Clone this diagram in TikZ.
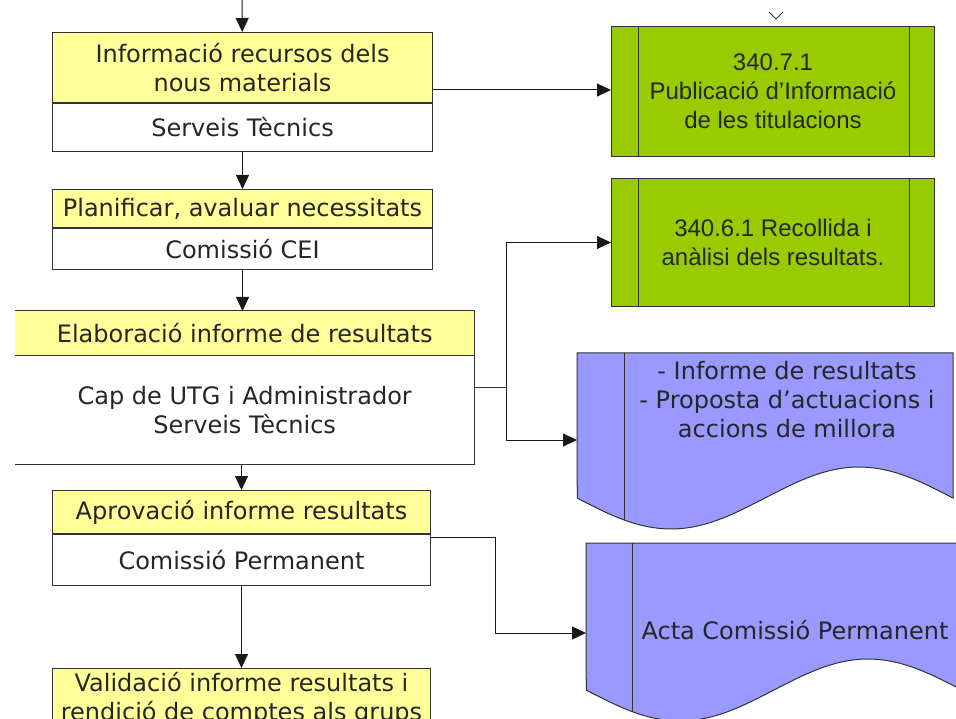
\documentclass[tikz,border=0pt]{standalone}
\usepackage{fontspec}
\newfontfamily\verdfont{DejaVu Sans}
\newfontfamily\arialfont{Liberation Sans}
\usetikzlibrary{arrows.meta, positioning}
\definecolor{boxyellow}{RGB}{255,255,153}
\definecolor{procgreen}{RGB}{153,204,0}
\definecolor{docblue}{RGB}{153,153,255}
\definecolor{linegray}{RGB}{51,51,51}

\begin{document}
\begin{tikzpicture}[x=1pt, y=-1pt, every node/.style={font=\verdfont\fontsize{24}{29}\selectfont, text=black!85, inner sep=0pt, align=center},
    taskTitle/.style={draw=linegray, line width=1pt, fill=boxyellow},
    taskRole/.style={draw=linegray, line width=1pt, fill=white},
    subProc/.style={draw=linegray, line width=1pt, fill=procgreen, minimum width=323pt, font=\arialfont\fontsize{24}{29}\selectfont},
    flow/.style={draw=black!90, line width=1pt, arrows=-{Triangle[length=14pt, width=13pt]}},
    edge/.style={draw=linegray, line width=1pt}]
    \useasboundingbox (0,0) rectangle (956,719);
    \clip (0,0) rectangle (956,719);

    % left column of tasks
    \node (infoTitle) [taskTitle, minimum width=380pt, minimum height=70pt, anchor=north west] at (52,32) {Informació recursos dels\\nous materials};
    \node (infoRole) [taskRole, minimum width=380pt, minimum height=48pt, below=0pt of infoTitle] {Serveis Tècnics};
    \node (planTitle) [taskTitle, minimum width=380pt, minimum height=38pt, anchor=north west] at (52,189) {Planificar, avaluar necessitats};
    \node (planRole) [taskRole, minimum width=380pt, minimum height=41pt, below=0pt of planTitle] {Comissió CEI};
    \node (elabTitle) [fill=boxyellow, minimum width=459pt, minimum height=44pt, anchor=north west] at (15,311) {Elaboració informe de resultats};
    \node (elabRole) [fill=white, minimum width=459pt, minimum height=109pt, below=0pt of elabTitle] {Cap de UTG i Administrador\\Serveis Tècnics};
    \draw [edge] (elabTitle.north west) -- (elabTitle.north east) -- (elabRole.south east) -- (elabRole.south west);
    \draw [edge] (elabTitle.south west) -- (elabTitle.south east);
    \node (aprovTitle) [taskTitle, minimum width=378pt, minimum height=43pt, anchor=north west] at (52,490) {Aprovació informe resultats};
    \node (aprovRole) [taskRole, minimum width=378pt, minimum height=51pt, below=0pt of aprovTitle] {Comissió Permanent};
    \node (validTitle) [taskTitle, minimum width=378pt, minimum height=60pt, anchor=north west] at (52,668) {Validació informe resultats i\\rendició de comptes als grups};

    % sub-processes
    \node (pubInfo) [subProc, minimum height=130pt, anchor=north west] at (611,26) {340.7.1\\Publicació d’Informació\\de les titulacions};
    \draw [edge] ([xshift=27pt]pubInfo.north west) -- ([xshift=27pt]pubInfo.south west);
    \draw [edge] ([xshift=-26pt]pubInfo.north east) -- ([xshift=-26pt]pubInfo.south east);
    \node (recollida) [subProc, minimum height=128pt, anchor=north west] at (611,178) {340.6.1 Recollida i\\anàlisi dels resultats.};
    \draw [edge] ([xshift=27pt]recollida.north west) -- ([xshift=27pt]recollida.south west);
    \draw [edge] ([xshift=-26pt]recollida.north east) -- ([xshift=-26pt]recollida.south east);
    \draw [edge, line width=0.8pt] (769,12) -- (776,19) -- (783,12);

    % documents
    \filldraw [fill=docblue, draw=linegray, line width=1pt] (577,353) -- (953,353) -- (953,498)
        -- plot[domain=1:0, samples=60] ({577+376*\x}, {498+31*sin(360*\x)}) -- cycle;
    \draw [edge] (624,353) -- (624,520);
    \node (informeDoc) at (787,400) {- Informe de resultats\\- Proposta d’actuacions i\\accions de millora};
    \filldraw [fill=docblue, draw=linegray, line width=1pt] (586,543) -- (962,543) -- (962,690)
        -- plot[domain=1:0, samples=60] ({586+376*\x}, {690+31*sin(360*\x)}) -- cycle;
    \draw [edge] (632,543) -- (632,712);
    \node (actaDoc) at (795,630) {Acta Comissió Permanent};

    % connectors
    \coordinate (topIn) at (242,-5);
    \coordinate (elabFork) at (506,387);
    \coordinate (informeIn) at (577,440);
    \coordinate (aprovBend) at (495,537);
    \coordinate (actaIn) at (586,633);
    \draw [flow] (topIn) -- (infoTitle);
    \draw [flow] (infoRole) -- (planTitle);
    \draw [flow] (planRole) -- (elabTitle.north -| planRole.south);
    \draw [flow] (elabRole.south -| aprovTitle.north) -- (aprovTitle);
    \draw [flow] (aprovRole) -- (validTitle);
    \draw [flow] ([yshift=13pt]infoTitle.south east) -- ([yshift=13pt]infoTitle.south east -| pubInfo.west);
    \draw [edge] (elabRole.east |- elabFork) -- (elabFork);
    \draw [flow] (elabFork) |- (recollida.west);
    \draw [flow] (elabFork) |- (informeIn);
    \draw [flow] (aprovRole.east |- aprovBend) -- (aprovBend) |- (actaIn);
\end{tikzpicture}
\end{document}
